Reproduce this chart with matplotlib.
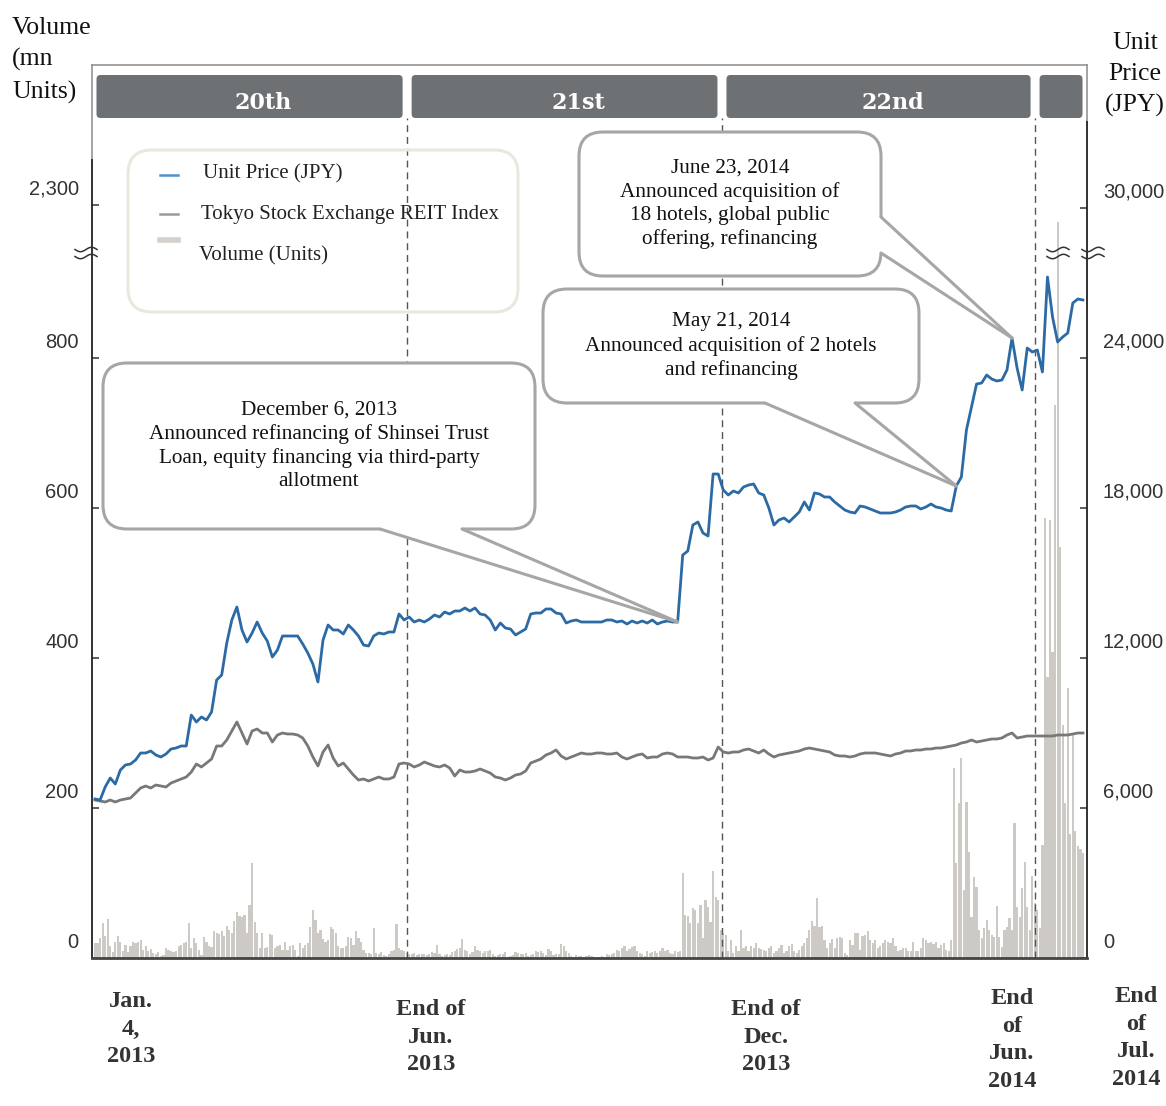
import numpy as np
import matplotlib
matplotlib.use("Agg")
import matplotlib.pyplot as plt
from matplotlib.patches import FancyBboxPatch, Polygon
from matplotlib.lines import Line2D
from matplotlib.transforms import IdentityTransform, ScaledTranslation

W, H = 1166, 1106

# ---- values ----
periods = ["20th", "21st", "22nd", ""]
# trading-day index (0 = Jan. 4, 2013) of end of Jun-13, end of Dec-13, end of Jun-14
period_ends = [123.2, 247.5, 371.1]
date_labels = ["Jan.\n4,\n2013", "End of\nJun.\n2013", "End of\nDec.\n2013",
               "End\nof\nJun.\n2014", "End\nof\nJul.\n2014"]
vol_ticks = [0, 200, 400, 600, 800, 2300]
vol_tick_labels = ["0", "200", "400", "600", "800", "2,300"]
price_ticks = [0, 6000, 12000, 18000, 24000, 30000]
price_tick_labels = ["0", "6,000", "12,000", "18,000", "24,000", "30,000"]

# unit price (JPY), one value every 2 trading days
unit_price = [
    6360, 6320, 6840, 7200, 6960, 7520, 7720, 7760, 7920, 8200,
    8200, 8280, 8120, 8040, 8160, 8360, 8400, 8480, 8480, 9720,
    9440, 9640, 9520, 9840, 11120, 11320, 12600, 13520, 14040, 13120,
    12640, 13000, 13440, 13000, 12680, 12040, 12320, 12880, 12880, 12880,
    12880, 12560, 12200, 11760, 11040, 12720, 13320, 13120, 13120, 12960,
    13320, 13120, 12880, 12520, 12480, 12880, 13000, 12960, 13040, 13040,
    13760, 13520, 13640, 13440, 13520, 13440, 13560, 13720, 13640, 13840,
    13760, 13880, 13880, 14000, 13880, 14000, 13760, 13720, 13520, 13120,
    13400, 13200, 13160, 12920, 13040, 13160, 13760, 13800, 13800, 13960,
    13960, 13800, 13760, 13400, 13480, 13520, 13440, 13440, 13440, 13440,
    13440, 13520, 13520, 13440, 13480, 13360, 13480, 13400, 13480, 13400,
    13520, 13360, 13440, 13480, 13440, 13440, 16120, 16280, 17320, 17440,
    17000, 16880, 19360, 19360, 18720, 18520, 18680, 18600, 18840, 18920,
    18960, 18600, 18520, 18000, 17320, 17520, 17600, 17440, 17640, 17840,
    18240, 17920, 18600, 18560, 18440, 18440, 18240, 18080, 17920, 17840,
    17800, 18080, 18040, 17960, 17880, 17800, 17800, 17800, 17840, 17920,
    18040, 18080, 18080, 17960, 18040, 18160, 18040, 18000, 17920, 17880,
    18880, 19240, 21120, 22040, 22960, 23000, 23320, 23160, 23080, 23120,
    23520, 24800, 23600, 22720, 24400, 24240, 24320, 23440, 27240, 25640,
    24640, 24840, 25000, 26200, 26360, 26320,
]

# TSE REIT index, rebased to the unit price of Jan. 4, 2013
reit_index = [
    6320, 6280, 6240, 6320, 6240, 6320, 6360, 6400, 6600, 6800,
    6880, 6800, 6920, 6880, 6840, 7000, 7080, 7160, 7240, 7440,
    7760, 7640, 7800, 7960, 8480, 8480, 8720, 9080, 9440, 9000,
    8560, 9080, 9160, 9000, 9000, 8640, 8920, 9000, 8960, 8960,
    8920, 8800, 8480, 8040, 7680, 8240, 8520, 8000, 7680, 7800,
    7560, 7320, 7120, 7160, 7080, 7160, 7240, 7160, 7160, 7240,
    7760, 7800, 7760, 7640, 7720, 7840, 7760, 7680, 7640, 7720,
    7600, 7280, 7520, 7440, 7440, 7480, 7560, 7480, 7400, 7240,
    7200, 7120, 7200, 7320, 7360, 7480, 7800, 7880, 7960, 8120,
    8200, 8320, 8080, 7960, 8040, 8120, 8200, 8160, 8160, 8200,
    8200, 8160, 8160, 8200, 8040, 7960, 8040, 8120, 8160, 8000,
    8040, 8040, 8160, 8200, 8160, 8040, 8040, 8040, 8000, 8000,
    8040, 7920, 8000, 8440, 8240, 8200, 8240, 8240, 8320, 8360,
    8280, 8200, 8320, 8160, 8040, 8120, 8160, 8200, 8240, 8280,
    8360, 8400, 8360, 8320, 8280, 8240, 8120, 8080, 8080, 8040,
    8080, 8160, 8200, 8200, 8200, 8160, 8120, 8080, 8160, 8200,
    8280, 8280, 8320, 8320, 8360, 8360, 8400, 8400, 8440, 8480,
    8520, 8600, 8640, 8720, 8640, 8680, 8720, 8760, 8760, 8800,
    8920, 9000, 8800, 8840, 8880, 8880, 8880, 8880, 8880, 8880,
    8920, 8920, 8920, 8960, 9000, 9000,
]

# daily trading volume (units)
volume = [
    # Jan - Jun 2013
    20, 20, 27, 47, 29, 52, 16, 8, 22, 29, 22, 9, 18, 8, 16, 22, 20, 22, 24, 11,
    16, 9, 12, 7, 6, 8, 3, 4, 13, 11, 10, 8, 9, 16, 18, 20, 21, 47, 13, 27,
    20, 11, 4, 28, 22, 16, 15, 36, 34, 32, 36, 29, 43, 38, 33, 49, 62, 56, 55, 58,
    33, 71, 127, 48, 33, 13, 33, 13, 15, 32, 31, 13, 16, 18, 11, 21, 11, 16, 18, 11,
    3, 20, 14, 18, 20, 42, 64, 51, 33, 38, 25, 22, 24, 42, 39, 34, 16, 13, 13, 16,
    28, 27, 18, 36, 27, 22, 11, 7, 7, 5, 40, 7, 6, 8, 4, 3, 6, 9, 11, 46,
    13, 11, 9,
    # Jul - Sep 2013
    7, 5, 6, 7, 4, 6, 6, 5, 4, 6, 8, 7, 18, 5, 3, 4, 6, 4, 8, 10,
    12, 13, 25, 11, 9, 6, 8, 16, 11, 9, 7, 10, 9, 11, 6, 3, 4, 5, 5, 8,
    2, 3, 4, 8, 7, 6, 5, 7, 3, 4, 6, 9, 8, 9, 7, 4, 12, 9, 4, 6,
    6, 19, 16, 9,
    # Oct 2013 - May 2014
    7, 3, 2, 4, 3, 3, 2, 3, 4, 3, 2, 2, 2, 3, 2, 6, 4, 5, 7, 11,
    9, 13, 16, 10, 12, 15, 16, 10, 7, 5, 3, 9, 7, 8, 10, 7, 9, 13, 10, 11,
    7, 6, 9, 8, 9,
    114, 58, 56, 47, 67, 64, 47, 71, 27, 78, 68, 48, 116,
    82, 78, 38, 33, 31, 9, 24, 7, 16, 10, 38, 13, 16, 9, 16, 13, 20, 13, 12, 11,
    9, 13, 16, 7, 9, 13, 18, 7, 9, 16, 19, 9, 7, 11, 16, 20, 27, 38, 49, 43,
    80, 42, 43, 24, 13, 20, 25, 13, 27, 28, 27, 7, 4, 24, 18, 33, 33, 11, 29, 31,
    36, 24, 20, 24, 13, 16, 20, 24, 22, 20, 27, 16, 9, 11, 13, 13, 10, 9, 22, 10,
    9, 13, 27, 24, 20, 22, 19, 22, 13, 18, 20, 11, 9,
    # late May - Jul 2014
    24, 253, 127, 207, 267, 91, 208, 141, 55, 108, 95, 37, 27, 40, 51, 37, 31, 28, 69, 28,
    15, 37, 41, 53, 37, 180, 68, 55, 93, 128, 68, 37, 110, 73, 64, 40, 151,
    587, 375, 584, 408, 737, 2131, 548, 311, 207, 360, 165, 298, 170, 150, 145, 140,
]

events = [
    ("December 6, 2013\nAnnounced refinancing of Shinsei Trust\n"
     "Loan, equity financing via third-party\nallotment", 230),
    ("May 21, 2014\nAnnounced acquisition of 2 hotels\nand refinancing", 340),
    ("June 23, 2014\nAnnounced acquisition of\n18 hotels, global public\n"
     "offering, refinancing", 362),
]
# callout boxes (left, top, right, bottom in px) and where the pointer leaves the box
callout_boxes = [(103, 363, 535, 529), (543, 289, 919, 403), (579, 132, 881, 276)]
callout_bases = [[(380, 529), (462, 529)], [(765, 403), (855, 403)], [(881, 217), (881, 253)]]

SERIF = ["Liberation Serif", "DejaVu Serif"]
NARROW = ["Noto Sans ExtraCondensed", "Noto Sans Condensed", "DejaVu Sans Condensed",
          "Liberation Sans Narrow", "Liberation Sans"]
ID = IdentityTransform()


def px(x, y):
    return (x, H - y)


# volume axis: linear to 800, compressed above the break
COMP = 204 / 1500


def fwd(v):
    v = np.asarray(v, dtype=float)
    return np.where(v <= 800, v, 800 + (v - 800) * COMP)


def inv(t):
    t = np.asarray(t, dtype=float)
    return np.where(t <= 800, t, 800 + (t - 800) / COMP)


fig = plt.figure(figsize=(W / 100, H / 100), dpi=100)
ax = fig.add_axes([92 / W, 1 - 958 / H, 995 / W, 893 / H])
ax2 = ax.twinx()

price_days = np.arange(len(unit_price)) * 2
vol_days = np.arange(len(volume))

ax.set_xlim(-1.2, 391.6)
ax.set_yscale("function", functions=(fwd, inv))
ax.set_ylim(0, float(inv(893 / 150 * 200)))
ax2.set_ylim(0, 893 * 40)

ax.bar(vol_days, volume, width=0.86, color="#cdc9c5", linewidth=0, zorder=2)
for d in period_ends:
    ax.axvline(d, ymin=0, ymax=(958 - 118) / 893, color="#555555", lw=1.0,
               ls=(0, (5, 3.5)), zorder=3)

ax2.plot(price_days, reit_index, color="#787878", lw=2.0, zorder=3)
ax2.plot(price_days, unit_price, color="#2b6aa5", lw=2.0, zorder=4)

for a in (ax, ax2):
    for s in a.spines.values():
        s.set_visible(False)
    a.tick_params(axis="x", bottom=False, labelbottom=False)

ax.set_yticks(vol_ticks, labels=vol_tick_labels)
ax.tick_params(axis="y", direction="in", length=5, width=1.1, color="#333333",
               pad=9.5, labelsize=14.5, labelcolor="#333333")
ax2.set_yticks(price_ticks, labels=price_tick_labels)
ax2.tick_params(axis="y", direction="in", length=5, width=1.1, color="#333333",
                pad=11.5, labelsize=14.5, labelcolor="#333333")
ax.yaxis.set_minor_locator(matplotlib.ticker.NullLocator())
ax2.yaxis.set_minor_locator(matplotlib.ticker.NullLocator())
shift = ScaledTranslation(0, 0.18, fig.dpi_scale_trans)
for lab in ax.get_yticklabels() + ax2.get_yticklabels():
    lab.set_fontfamily(NARROW)
    lab.set_fontstretch("condensed")
    lab.set_transform(lab.get_transform() + shift)

# frame
frame = [((92, 65), (1087, 65), "#8a8a8a", 1.1), ((92, 65), (92, 160), "#8a8a8a", 1.1),
         ((92, 160), (92, 958), "#222222", 1.3), ((1087, 65), (1087, 122), "#8a8a8a", 1.1),
         ((1087, 122), (1087, 958), "#222222", 1.3), ((92, 958), (1087, 958), "#444444", 2.0)]
for p0, p1, c, lw in frame:
    a0, a1 = px(*p0), px(*p1)
    fig.add_artist(Line2D([a0[0], a1[0]], [a0[1], a1[1]], color=c, lw=lw, transform=ID))

# period headers
fig.canvas.draw()
bounds = [92] + [ax.transData.transform((d, 0))[0] for d in period_ends] + [1087]
for i, name in enumerate(periods):
    x0, x1 = bounds[i] + 4.5, bounds[i + 1] - 4.5
    fig.add_artist(FancyBboxPatch(px(x0, 118), x1 - x0, 43,
                                  boxstyle="round,pad=0,rounding_size=4",
                                  fc="#6e7173", ec="none", transform=ID))
    if name:
        fig.text((x0 + x1) / 2 + 14, H - 103, name, transform=ID, ha="center", va="center",
                 color="white", fontsize=16, weight="bold", family="DejaVu Serif")

# axis titles
fig.text(12, H - 17, "Volume\n(mn\nUnits)", transform=ID, ha="left", va="top",
         fontsize=18.5, family=SERIF, color="#111111", linespacing=1.52)
fig.text(1135, H - 32, "Unit\nPrice\n(JPY)", transform=ID, ha="center", va="top",
         fontsize=18.5, family=SERIF, color="#111111", linespacing=1.52)

# date labels
date_pos = [(131, 991), (431, 999), (766, 999), (1012, 988), (1136, 986)]
for (x, y), s in zip(date_pos, date_labels):
    fig.text(x, H - y, s, transform=ID, ha="center", va="top", fontsize=17.5,
             family=SERIF, weight="bold", color="#333333", linespacing=1.42)

# legend
fig.add_artist(FancyBboxPatch(px(128, 312), 390, 162, boxstyle="round,pad=0,rounding_size=24",
                              fc="none", ec="#e9e8df", lw=2.2, transform=ID, zorder=5))
leg = [("Unit Price (JPY)", "#4f94c8", 1.8, 175, 203, 174),
       ("Tokyo Stock Exchange REIT Index", "#9a9a9a", 1.8, 214, 201, 215),
       ("Volume (Units)", "#d4d0cc", 4.0, 240, 199, 256)]
for label, c, lw, ly, tx, ty in leg:
    fig.add_artist(Line2D([160, 178], [H - ly, H - ly], color=c, lw=lw, transform=ID, zorder=6))
    fig.text(tx, H - ty, label, transform=ID, ha="left", va="center", fontsize=15,
             family=SERIF, color="#222222", zorder=6)

# callouts
for (text, day), (l, t, r, b), bases in zip(events, callout_boxes, callout_bases):
    tip = ax2.transData.transform((day, unit_price[day // 2]))
    fig.add_artist(FancyBboxPatch(px(l, b), r - l, b - t, boxstyle="round,pad=0,rounding_size=24",
                                  fc="white", ec="#a6a6a6", lw=2.2, transform=ID, zorder=10))
    (bx0, by0), (bx1, by1) = px(*bases[0]), px(*bases[1])
    if by0 == by1:
        inner = [(bx0, by0 + 4), (bx1, by1 + 4)]
    else:
        inner = [(bx0 - 4, by0), (bx1 - 4, by1)]
    fig.add_artist(Polygon([inner[0], (bx0, by0), tuple(tip), (bx1, by1), inner[1]],
                           closed=True, fc="white", ec="none", transform=ID, zorder=11))
    for bx, by in ((bx0, by0), (bx1, by1)):
        fig.add_artist(Line2D([bx, tip[0]], [by, tip[1]], color="#a6a6a6", lw=2.2,
                              transform=ID, zorder=12, solid_capstyle="round"))
    fig.text((l + r) / 2, H - (t + b) / 2, text, transform=ID, ha="center", va="center",
             fontsize=15.3, family=SERIF, color="#111111", linespacing=1.3, zorder=13)

# axis break marks
for xc in (86, 1058, 1093):
    xs = np.linspace(-11, 11, 40)
    for dy in (-3.5, 3.5):
        ys = H - (253 + dy) + 2.2 * np.sin(2 * np.pi * xs / 22)
        fig.add_artist(Line2D(xc + xs, ys, color="#333333", lw=1.1, transform=ID, zorder=9))

fig.savefig("out.png", dpi=100)
